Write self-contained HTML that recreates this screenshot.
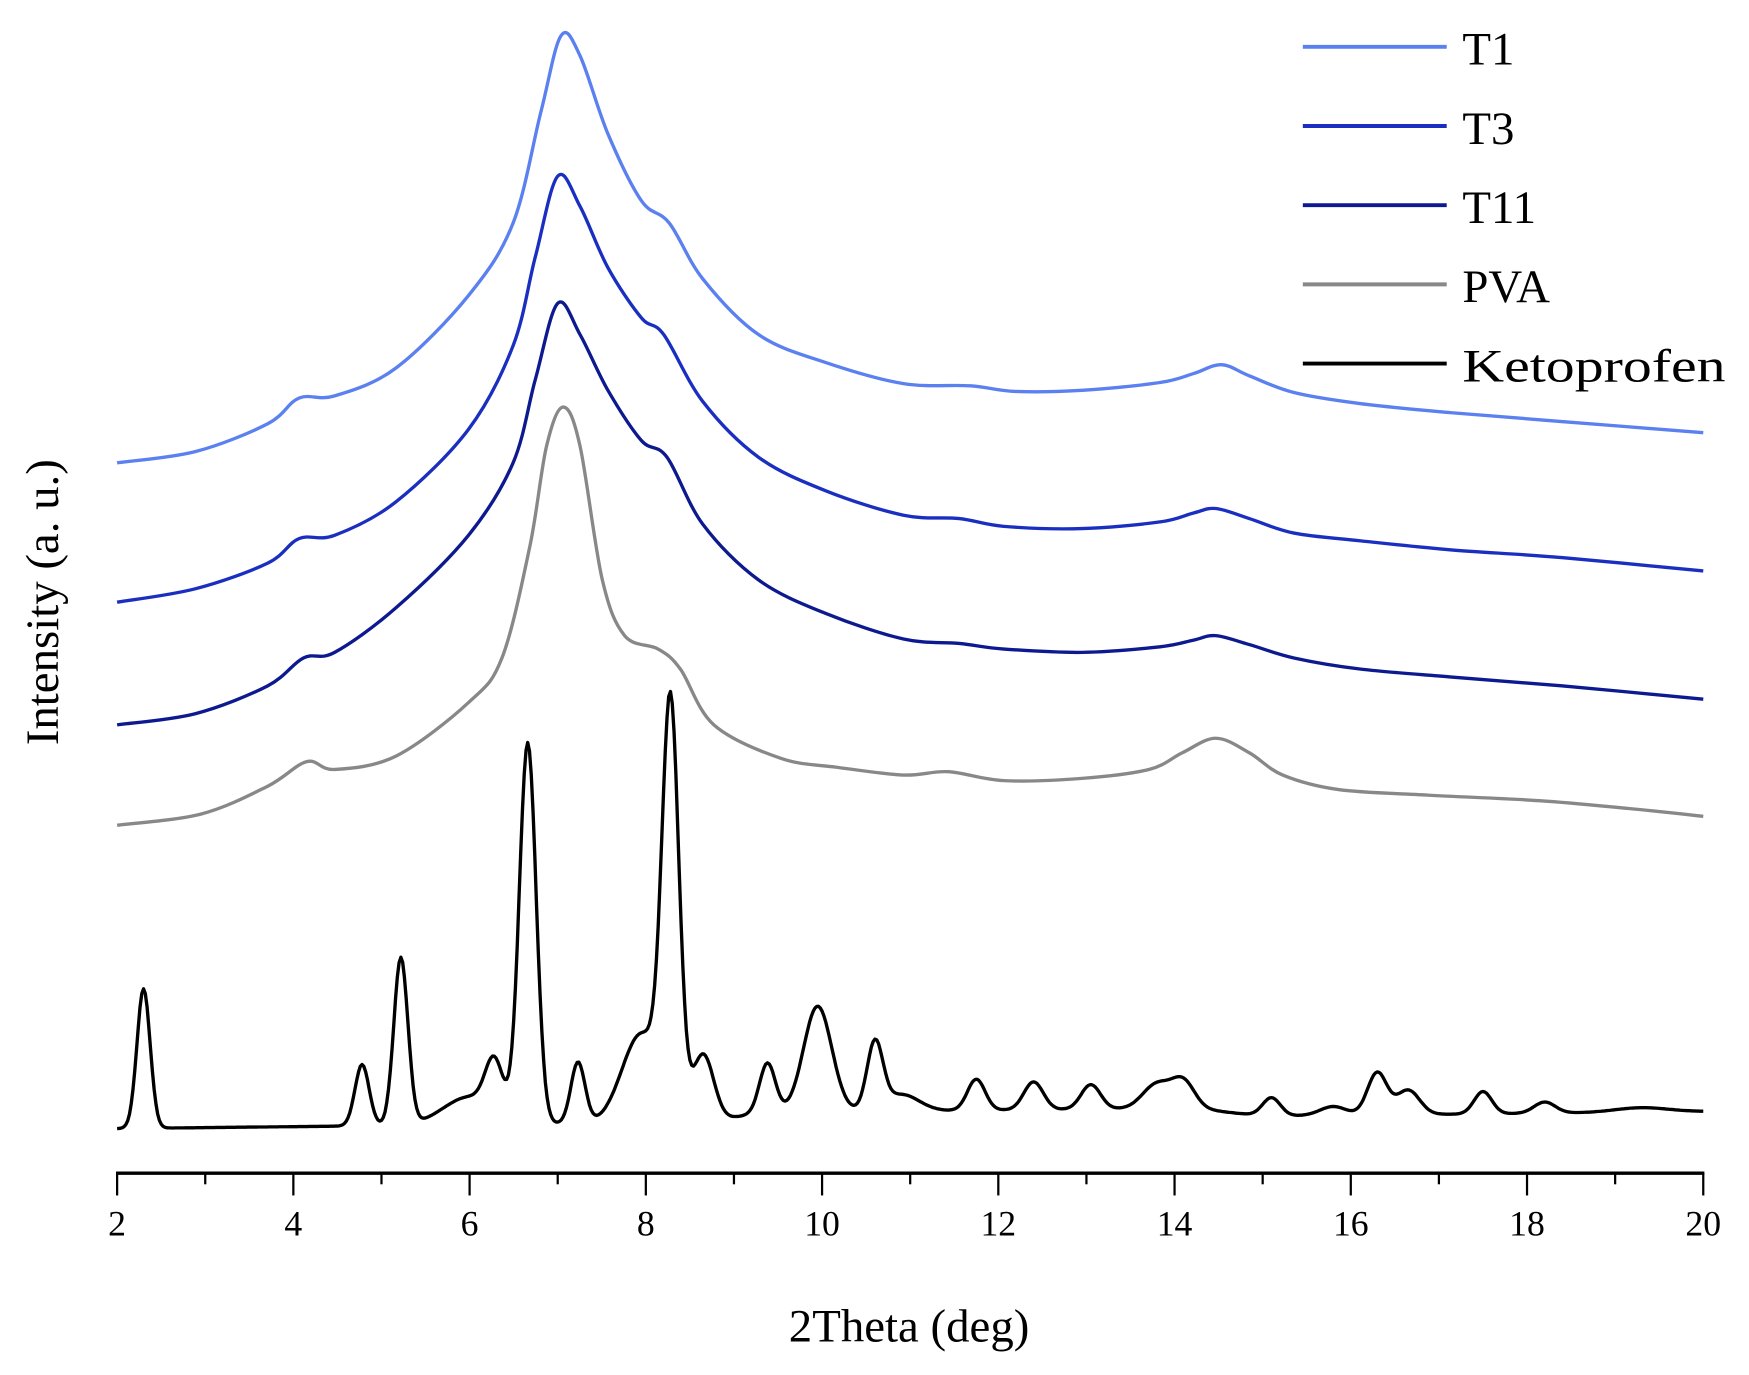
<!DOCTYPE html>
<html><head><meta charset="utf-8"><style>
html,body{margin:0;padding:0;background:#fff}
svg{display:block}
text{font-family:"Liberation Serif",serif;fill:#000}
</style></head><body>
<svg id="s" width="1749" height="1375" viewBox="0 0 1568 1233" preserveAspectRatio="none" xmlns="http://www.w3.org/2000/svg">
<rect width="1568" height="1233" fill="#fff"/>
<g id="curves" fill="none" stroke-width="3" stroke-linejoin="round"></g>
<line x1="104" y1="1052" x2="1528" y2="1052" stroke="#000" stroke-width="3"/>
<g id="ticks" stroke="#000" stroke-width="2"></g>
<g font-size="32" text-anchor="middle" id="tl"></g>
<text x="815" y="1203" font-size="42" text-anchor="middle">2Theta (deg)</text>
<text transform="translate(52,540) rotate(-90)" font-size="42" text-anchor="middle">Intensity (a. u.)</text>
<g stroke-width="3.5">
<line x1="1168" y1="42" x2="1297" y2="42" stroke="#5b80f0"/>
<line x1="1168" y1="113" x2="1297" y2="113" stroke="#1a2fc0"/>
<line x1="1168" y1="184" x2="1297" y2="184" stroke="#0d1a8f"/>
<line x1="1168" y1="255" x2="1297" y2="255" stroke="#888"/>
<line x1="1168" y1="326" x2="1297" y2="326" stroke="#000"/>
</g>
<g font-size="42">
<text x="1311" y="58">T1</text>
<text x="1311" y="129">T3</text>
<text x="1311" y="200">T11</text>
<text x="1311" y="271">PVA</text>
<text x="1311" y="342" textLength="236" lengthAdjust="spacingAndGlyphs">Ketoprofen</text>
</g>
</svg>
<script>
var NS="http://www.w3.org/2000/svg";
function px(x){return 105+(x-2)*79;}
var tk=document.getElementById("ticks"),tl=document.getElementById("tl");
for(var i=2;i<=20;i++){var l=document.createElementNS(NS,"line");var X=px(i);
l.setAttribute("x1",X);l.setAttribute("x2",X);l.setAttribute("y1",1052);l.setAttribute("y2",i%2==0?1072:1062);tk.appendChild(l);
if(i%2==0){var t=document.createElementNS(NS,"text");t.setAttribute("x",X);t.setAttribute("y",1108);t.textContent=i;tl.appendChild(t);}}
function smooth(p){var d="M"+p[0][0]+","+p[0][1];for(var i=0;i<p.length-1;i++){var p0=p[i-1]||p[i],p1=p[i],p2=p[i+1],p3=p[i+2]||p2;
d+=" C"+(p1[0]+(p2[0]-p0[0])/6).toFixed(1)+","+(p1[1]+(p2[1]-p0[1])/6).toFixed(1)+" "+(p2[0]-(p3[0]-p1[0])/6).toFixed(1)+","+(p2[1]-(p3[1]-p1[1])/6).toFixed(1)+" "+p2[0]+","+p2[1];}return d;}
var g=document.getElementById("curves");
function add(d,c){var p=document.createElementNS(NS,"path");p.setAttribute("d",d);p.setAttribute("stroke",c);g.appendChild(p);}
var T1=[[105,415],[175,405],[240,380],[268,357],[300,355],[355,330],[420,265],[460,200],[485,100],[503,32],[520,50],[545,120],[575,180],[600,200],[630,250],[680,300],[740,325],[810,344],[870,346],[910,351],[970,350],[1040,343],[1070,335],[1095,327],[1120,337],[1160,352],[1220,362],[1300,370],[1400,378],[1527,388]];
var T3=[[105,540],[175,528],[240,505],[268,483],[300,480],[355,450],[420,385],[460,310],[480,230],[500,158],[520,185],[545,240],[575,285],[595,300],[630,360],[680,410],[740,440],[810,462],[860,465],[900,472],[970,474],[1040,468],[1070,460],[1090,456],[1120,465],[1160,478],[1220,485],[1300,493],[1400,500],[1527,512]];
var T11=[[105,650],[175,640],[240,615],[272,590],[300,585],[355,545],[420,480],[460,415],[480,340],[500,272],[520,300],[545,350],[575,395],[598,410],[630,470],[680,520],[740,550],[810,573],[860,577],[900,582],[970,585],[1040,580],[1070,574],[1090,570],[1120,578],[1160,590],[1220,600],[1300,607],[1400,615],[1527,627]];
var PVA=[[105,740],[180,730],[240,705],[275,683],[300,690],[355,678],[420,630],[450,590],[475,490],[490,400],[505,365],[520,400],[540,520],[560,570],[590,582],[610,600],[640,650],[700,680],[750,688],[810,695],[850,692],[900,700],[970,698],[1030,690],[1060,675],[1090,662],[1120,675],[1150,695],[1200,708],[1280,713],[1380,718],[1460,725],[1527,732]];
add(smooth(PVA),"#888");add(smooth(T11),"#0d1a8f");add(smooth(T3),"#1a2fc0");add(smooth(T1),"#5b80f0");
var pk=[[2.3,125,0.075],[4.78,55,0.08],[5.22,150,0.08],[6.0,25,0.3],[6.28,45,0.1],[6.66,340,0.095],[7.23,55,0.08],[7.95,80,0.22],[8.28,360,0.095],[8.65,60,0.12],[9.38,45,0.09],[9.95,95,0.16],[10.6,60,0.09],[10.9,15,0.2],[11.75,28,0.1],[12.4,25,0.11],[13.05,22,0.11],[13.8,22,0.16],[14.1,24,0.13],[15.1,16,0.1],[15.8,8,0.15],[16.3,38,0.11],[16.65,22,0.13],[17.5,20,0.1],[18.2,10,0.12],[19.3,4,0.3]];
var pts=[];for(var x=2;x<=20.0001;x+=0.02){var b=1012-(x-2)*0.85;
b-=8/(1+Math.exp(-(x-9)/0.15))*(1/(1+Math.exp((x-14.6)/0.2)));var y=b;
for(var k=0;k<pk.length;k++){var q=pk[k];y-=q[1]*Math.exp(-Math.pow((x-q[0])/q[2],2)/2);}
pts.push(px(x).toFixed(1)+","+y.toFixed(1));}
add("M"+pts.join(" L"),"#000");
</script>
</body></html>
